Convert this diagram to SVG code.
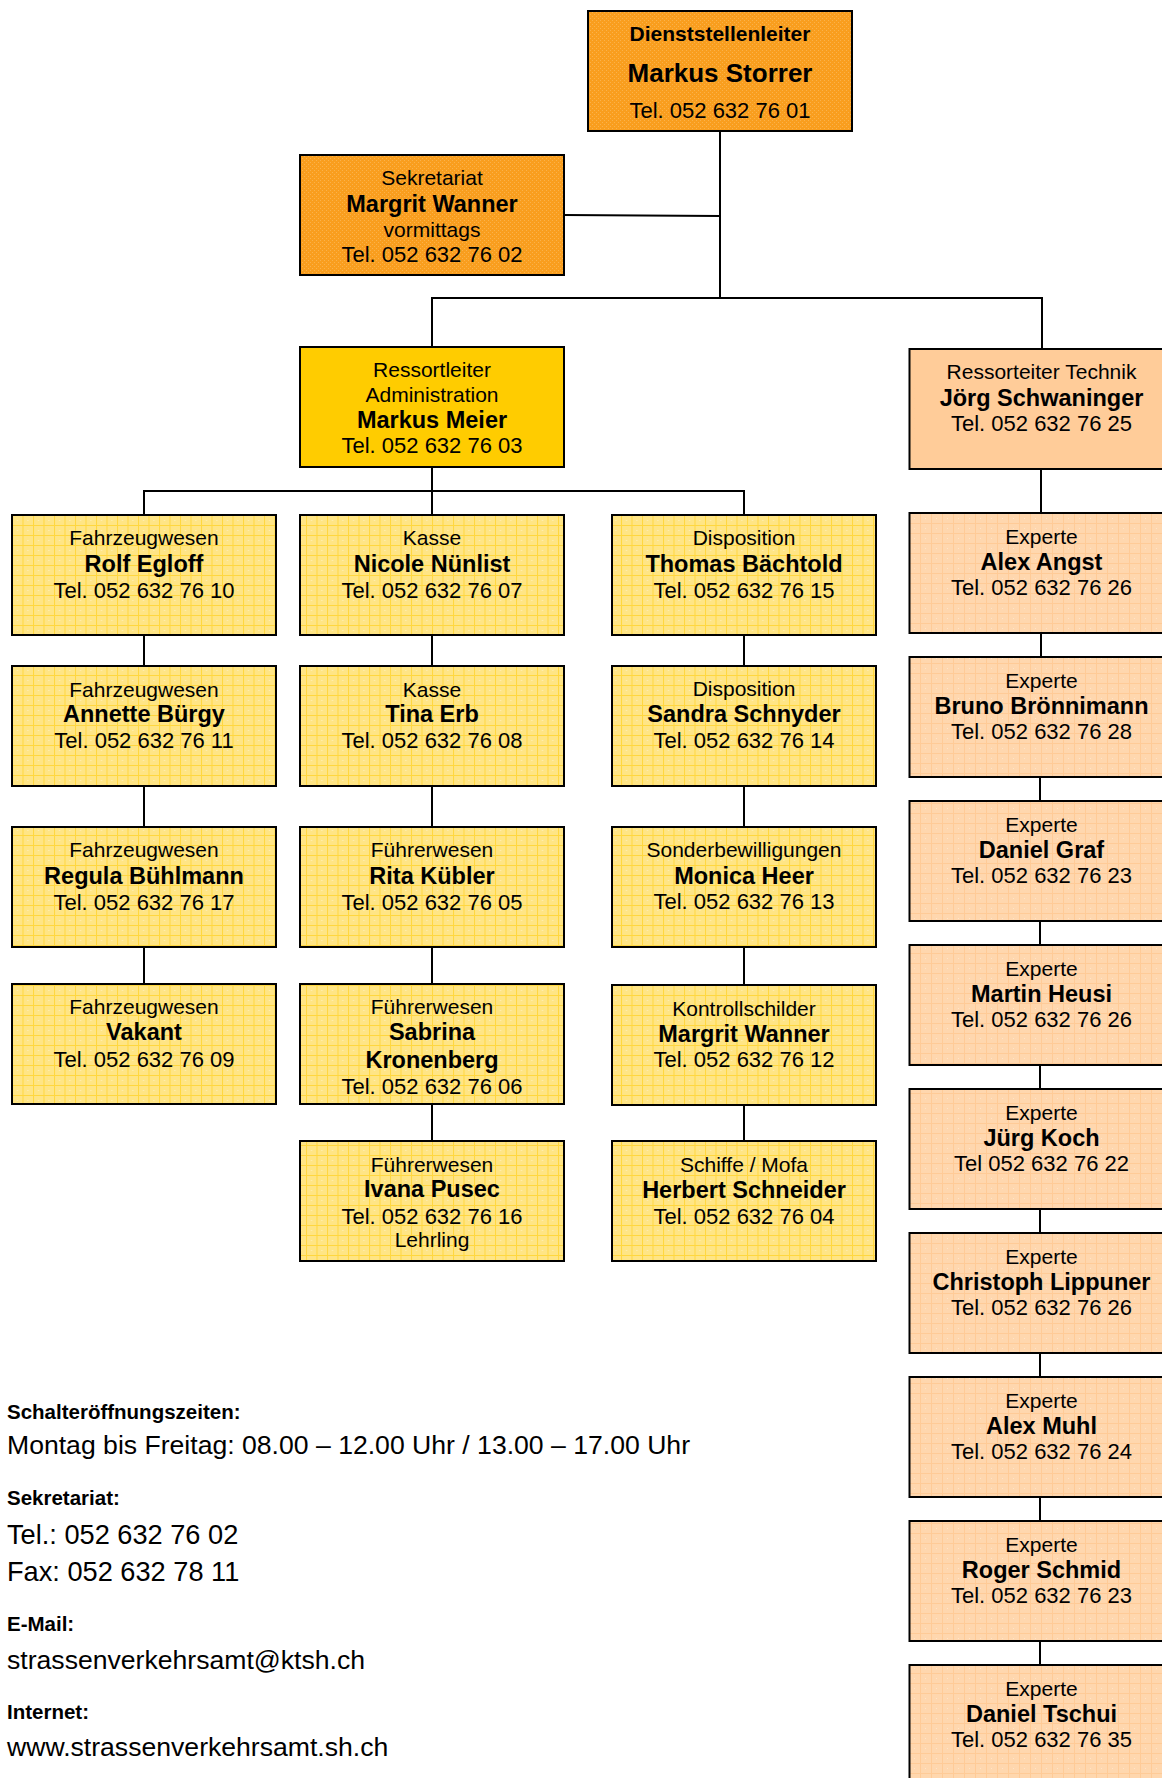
<svg xmlns="http://www.w3.org/2000/svg" width="1162" height="1778" viewBox="0 0 1162 1778">
<defs>
<pattern id="pYellow" patternUnits="userSpaceOnUse" width="10.5" height="10" x="12" y="515">
<rect width="10.5" height="10" fill="#FFE585"/>
<rect x="0" y="0" width="10.5" height="1" fill="#FFD73F"/>
<rect x="0" y="0" width="1" height="10" fill="#FFD73F"/>
<rect x="5" y="5" width="1" height="1" fill="#FFF2C0"/>
</pattern>
<pattern id="pPeach" patternUnits="userSpaceOnUse" width="11" height="10" x="909" y="513">
<rect width="11" height="10" fill="#FFD7AE"/>
<rect x="0" y="0" width="11" height="1" fill="#FFCB97"/>
<rect x="0" y="0" width="1" height="10" fill="#FFCB97"/>
<rect x="5" y="5" width="1" height="1" fill="#FFE4C8"/>
</pattern>
<pattern id="pOrange" patternUnits="userSpaceOnUse" width="4" height="4">
<rect width="4" height="4" fill="#F99E1E"/>
<rect x="0" y="0" width="1" height="1" fill="#FBB24A"/>
<rect x="2" y="2" width="1" height="1" fill="#FBB24A"/>
</pattern>
</defs>
<style>
.box{stroke:#000;stroke-width:2}
.or{fill:url(#pOrange)}
.ye{fill:url(#pYellow)}
.pe{fill:url(#pPeach)}
.gold{fill:#FFCC00}
.tec{fill:#FFCC99}
text{font-family:"Liberation Sans",Arial,Helvetica,sans-serif;fill:#000;text-anchor:middle}
.r{font-size:21px}
.t{font-size:22px}
.b{font-size:23.5px;font-weight:bold}
.hb{font-size:21px;font-weight:bold}
.big{font-size:26px;font-weight:bold}
.lab{font-size:20.5px;font-weight:bold;text-anchor:start}
.info{font-size:26.6px;text-anchor:start}
.info2{font-size:27.2px;text-anchor:start}
#connectors line{stroke:#000;stroke-width:2;fill:none}
</style>
<rect width="1162" height="1778" fill="#fff"/>
<g id="connectors">
<line x1="720" y1="131" x2="720" y2="299"/>
<line x1="564" y1="215" x2="720" y2="216"/>
<line x1="431" y1="298" x2="1043" y2="298"/>
<line x1="432" y1="298" x2="432" y2="347"/>
<line x1="1042" y1="298" x2="1042" y2="349"/>
<line x1="432" y1="467" x2="432" y2="491"/>
<line x1="143" y1="491" x2="745" y2="491"/>
<line x1="144" y1="491" x2="144" y2="515"/>
<line x1="432" y1="491" x2="432" y2="515"/>
<line x1="744" y1="491" x2="744" y2="515"/>
<line x1="144" y1="635" x2="144" y2="666"/>
<line x1="144" y1="786" x2="144" y2="827"/>
<line x1="144" y1="947" x2="144" y2="984"/>
<line x1="432" y1="635" x2="432" y2="666"/>
<line x1="432" y1="786" x2="432" y2="827"/>
<line x1="432" y1="947" x2="432" y2="984"/>
<line x1="432" y1="1104" x2="432" y2="1141"/>
<line x1="744" y1="635" x2="744" y2="666"/>
<line x1="744" y1="786" x2="744" y2="827"/>
<line x1="744" y1="947" x2="744" y2="985"/>
<line x1="744" y1="1105" x2="744" y2="1141"/>
<line x1="1041" y1="469" x2="1041" y2="513"/>
<line x1="1041" y1="633" x2="1041" y2="657"/>
<line x1="1040" y1="777" x2="1040" y2="801"/>
<line x1="1040" y1="921" x2="1040" y2="945"/>
<line x1="1040" y1="1065" x2="1040" y2="1089"/>
<line x1="1040" y1="1209" x2="1040" y2="1233"/>
<line x1="1040" y1="1353" x2="1040" y2="1377"/>
<line x1="1040" y1="1497" x2="1040" y2="1521"/>
<line x1="1040" y1="1641" x2="1040" y2="1665"/>
</g>

<g id="n-dienststellenleiter">
<rect class="box or" x="588" y="11" width="264" height="120"/>
<text class="hb" x="720" y="41">Dienststellenleiter</text>
<text class="big" x="720" y="82">Markus Storrer</text>
<text class="t" x="720" y="118">Tel. 052 632 76 01</text>
</g>
<g id="n-sekretariat">
<rect class="box or" x="300" y="155" width="264" height="120"/>
<text class="r" x="432" y="185">Sekretariat</text>
<text class="b" x="432" y="211.5">Margrit Wanner</text>
<text class="r" x="432" y="237">vormittags</text>
<text class="t" x="432" y="261.5">Tel. 052 632 76 02</text>
</g>
<g id="n-admin">
<rect class="box gold" x="300" y="347" width="264" height="120"/>
<text class="r" x="432" y="377">Ressortleiter</text>
<text class="r" x="432" y="402">Administration</text>
<text class="b" x="432" y="428">Markus Meier</text>
<text class="t" x="432" y="453">Tel. 052 632 76 03</text>
</g>
<g id="n-technik">
<rect class="box tec" x="909.5" y="349" width="264" height="120"/>
<text class="r" x="1041.5" y="379">Ressorteiter Technik</text>
<text class="b" x="1041.5" y="406">Jörg Schwaninger</text>
<text class="t" x="1041.5" y="431">Tel. 052 632 76 25</text>
</g>

<!-- Column 1 -->
<g id="n-egloff">
<rect class="box ye" x="12" y="515" width="264" height="120"/>
<text class="r" x="144" y="545">Fahrzeugwesen</text>
<text class="b" x="144" y="571.5">Rolf Egloff</text>
<text class="t" x="144" y="597.5">Tel. 052 632 76 10</text>
</g>
<g id="n-buergy">
<rect class="box ye" x="12" y="666" width="264" height="120"/>
<text class="r" x="144" y="696.5">Fahrzeugwesen</text>
<text class="b" x="144" y="722">Annette Bürgy</text>
<text class="t" x="144" y="748">Tel. 052 632 76 11</text>
</g>
<g id="n-buehlmann">
<rect class="box ye" x="12" y="827" width="264" height="120"/>
<text class="r" x="144" y="857">Fahrzeugwesen</text>
<text class="b" x="144" y="883.5">Regula Bühlmann</text>
<text class="t" x="144" y="909.5">Tel. 052 632 76 17</text>
</g>
<g id="n-vakant">
<rect class="box ye" x="12" y="984" width="264" height="120"/>
<text class="r" x="144" y="1013.5">Fahrzeugwesen</text>
<text class="b" x="144" y="1040">Vakant</text>
<text class="t" x="144" y="1066.5">Tel. 052 632 76 09</text>
</g>

<!-- Column 2 -->
<g id="n-nuenlist">
<rect class="box ye" x="300" y="515" width="264" height="120"/>
<text class="r" x="432" y="545">Kasse</text>
<text class="b" x="432" y="571.5">Nicole Nünlist</text>
<text class="t" x="432" y="597.5">Tel. 052 632 76 07</text>
</g>
<g id="n-erb">
<rect class="box ye" x="300" y="666" width="264" height="120"/>
<text class="r" x="432" y="696.5">Kasse</text>
<text class="b" x="432" y="722">Tina Erb</text>
<text class="t" x="432" y="748">Tel. 052 632 76 08</text>
</g>
<g id="n-kuebler">
<rect class="box ye" x="300" y="827" width="264" height="120"/>
<text class="r" x="432" y="857">Führerwesen</text>
<text class="b" x="432" y="883.5">Rita Kübler</text>
<text class="t" x="432" y="909.5">Tel. 052 632 76 05</text>
</g>
<g id="n-kronenberg">
<rect class="box ye" x="300" y="984" width="264" height="120"/>
<text class="r" x="432" y="1013.5">Führerwesen</text>
<text class="b" x="432" y="1040">Sabrina</text>
<text class="b" x="432" y="1068">Kronenberg</text>
<text class="t" x="432" y="1093.5">Tel. 052 632 76 06</text>
</g>
<g id="n-pusec">
<rect class="box ye" x="300" y="1141" width="264" height="120"/>
<text class="r" x="432" y="1171.5">Führerwesen</text>
<text class="b" x="432" y="1197">Ivana Pusec</text>
<text class="t" x="432" y="1224">Tel. 052 632 76 16</text>
<text class="r" x="432" y="1246.5">Lehrling</text>
</g>

<!-- Column 3 -->
<g id="n-baechtold">
<rect class="box ye" x="612" y="515" width="264" height="120"/>
<text class="r" x="744" y="545">Disposition</text>
<text class="b" x="744" y="571.5">Thomas Bächtold</text>
<text class="t" x="744" y="597.5">Tel. 052 632 76 15</text>
</g>
<g id="n-schnyder">
<rect class="box ye" x="612" y="666" width="264" height="120"/>
<text class="r" x="744" y="696">Disposition</text>
<text class="b" x="744" y="722">Sandra Schnyder</text>
<text class="t" x="744" y="748">Tel. 052 632 76 14</text>
</g>
<g id="n-heer">
<rect class="box ye" x="612" y="827" width="264" height="120"/>
<text class="r" x="744" y="857">Sonderbewilligungen</text>
<text class="b" x="744" y="883.5">Monica Heer</text>
<text class="t" x="744" y="909">Tel. 052 632 76 13</text>
</g>
<g id="n-wanner">
<rect class="box ye" x="612" y="985" width="264" height="120"/>
<text class="r" x="744" y="1016">Kontrollschilder</text>
<text class="b" x="744" y="1042">Margrit Wanner</text>
<text class="t" x="744" y="1067">Tel. 052 632 76 12</text>
</g>
<g id="n-schneider">
<rect class="box ye" x="612" y="1141" width="264" height="120"/>
<text class="r" x="744" y="1171.5">Schiffe / Mofa</text>
<text class="b" x="744" y="1197.5">Herbert Schneider</text>
<text class="t" x="744" y="1223.5">Tel. 052 632 76 04</text>
</g>

<!-- Column 4 -->
<g id="n-angst">
<rect class="box pe" x="909.5" y="513" width="264" height="120"/>
<text class="r" x="1041.5" y="544">Experte</text>
<text class="b" x="1041.5" y="570">Alex Angst</text>
<text class="t" x="1041.5" y="595">Tel. 052 632 76 26</text>
</g>
<g id="n-broennimann">
<rect class="box pe" x="909.5" y="657" width="264" height="120"/>
<text class="r" x="1041.5" y="688">Experte</text>
<text class="b" x="1041.5" y="714">Bruno Brönnimann</text>
<text class="t" x="1041.5" y="739">Tel. 052 632 76 28</text>
</g>
<g id="n-graf">
<rect class="box pe" x="909.5" y="801" width="264" height="120"/>
<text class="r" x="1041.5" y="832">Experte</text>
<text class="b" x="1041.5" y="858">Daniel Graf</text>
<text class="t" x="1041.5" y="883">Tel. 052 632 76 23</text>
</g>
<g id="n-heusi">
<rect class="box pe" x="909.5" y="945" width="264" height="120"/>
<text class="r" x="1041.5" y="976">Experte</text>
<text class="b" x="1041.5" y="1002">Martin Heusi</text>
<text class="t" x="1041.5" y="1027">Tel. 052 632 76 26</text>
</g>
<g id="n-koch">
<rect class="box pe" x="909.5" y="1089" width="264" height="120"/>
<text class="r" x="1041.5" y="1120">Experte</text>
<text class="b" x="1041.5" y="1146">Jürg Koch</text>
<text class="t" x="1041.5" y="1171">Tel 052 632 76 22</text>
</g>
<g id="n-lippuner">
<rect class="box pe" x="909.5" y="1233" width="264" height="120"/>
<text class="r" x="1041.5" y="1264">Experte</text>
<text class="b" x="1041.5" y="1290">Christoph Lippuner</text>
<text class="t" x="1041.5" y="1315">Tel. 052 632 76 26</text>
</g>
<g id="n-muhl">
<rect class="box pe" x="909.5" y="1377" width="264" height="120"/>
<text class="r" x="1041.5" y="1408">Experte</text>
<text class="b" x="1041.5" y="1434">Alex Muhl</text>
<text class="t" x="1041.5" y="1459">Tel. 052 632 76 24</text>
</g>
<g id="n-schmid">
<rect class="box pe" x="909.5" y="1521" width="264" height="120"/>
<text class="r" x="1041.5" y="1552">Experte</text>
<text class="b" x="1041.5" y="1578">Roger Schmid</text>
<text class="t" x="1041.5" y="1603">Tel. 052 632 76 23</text>
</g>
<g id="n-tschui">
<rect class="box pe" x="909.5" y="1665" width="264" height="120"/>
<text class="r" x="1041.5" y="1696">Experte</text>
<text class="b" x="1041.5" y="1722">Daniel Tschui</text>
<text class="t" x="1041.5" y="1747">Tel. 052 632 76 35</text>
</g>

<g id="info">
<text class="lab" x="7" y="1419">Schalteröffnungszeiten:</text>
<text class="info" x="7" y="1454">Montag bis Freitag: 08.00 – 12.00 Uhr / 13.00 – 17.00 Uhr</text>
<text class="lab" x="7" y="1505">Sekretariat:</text>
<text class="info2" x="7" y="1543.5">Tel.: 052 632 76 02</text>
<text class="info2" x="7" y="1581">Fax: 052 632 78 11</text>
<text class="lab" x="7" y="1631">E-Mail:</text>
<text class="info" x="7" y="1668.5">strassenverkehrsamt@ktsh.ch</text>
<text class="lab" x="7" y="1718.5">Internet:</text>
<text class="info" x="7" y="1756">www.strassenverkehrsamt.sh.ch</text>
</g>
</svg>
